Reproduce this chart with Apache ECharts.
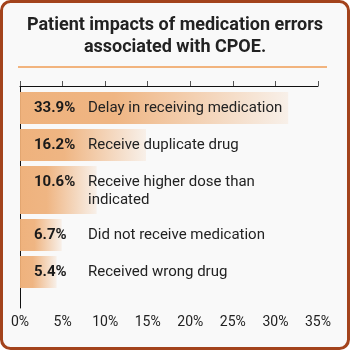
<!DOCTYPE html>
<html><head><meta charset="utf-8">
<script src="https://cdn.jsdelivr.net/npm/echarts@6/dist/echarts.min.js"></script>
<style>html,body{margin:0;padding:0;background:#fff;}#c{width:350px;height:350px;}</style>
</head><body><div id="c"></div>
<script>
const titleText = 'Patient impacts of medication errors\nassociated with CPOE.';
const categories = ['Delay in receiving medication','Receive duplicate drug','Receive higher dose than\nindicated','Did not receive medication','Received wrong drug'];
const percentLabels = ['33.9%','16.2%','10.6%','6.7%','5.4%'];
const barValues = [31.5, 14.8, 9.0, 4.9, 4.3];
const xTicks = [0,5,10,15,20,25,30,35];

// layout (px-like units on the hidden vertical value axis)
const topPad = 6, gap = 5, oneLine = 32, twoLine = 48, plotH = 222;
const rows = [];
let y = topPad;
categories.forEach((c, i) => {
  const h = c.indexOf('\n') >= 0 ? twoLine : oneLine;
  rows.push({top: y, h: h});
  y += h + gap;
});
const data = barValues.map((v, i) => [v, i]);

const chart = echarts.init(document.getElementById('c'), null, {renderer: 'canvas'});
chart.setOption({
  backgroundColor: '#ffffff',
  animation: false,
  graphic: [
    {type: 'rect', shape: {x: 1.5, y: 1.5, width: 347, height: 347, r: 9}, style: {fill: '#f9f9f9', stroke: '#a3431c', lineWidth: 3}, z: -10},
    {type: 'line', shape: {x1: 18, y1: 67, x2: 327, y2: 67}, style: {stroke: '#f2b47e', lineWidth: 2}}
  ],
  title: {
    text: titleText, left: 'center', top: 9,
    textStyle: {fontFamily: 'Roboto', fontWeight: 'bold', fontSize: 18, color: '#222', lineHeight: 22}
  },
  grid: {left: 20, right: 32, top: 86, bottom: 42},
  xAxis: {
    type: 'value', min: 0, max: 35, interval: 5,
    axisLine: {show: true, lineStyle: {color: '#111', width: 1}},
    axisTick: {show: true, inside: true, length: 5, lineStyle: {color: '#555'}},
    splitLine: {show: false},
    axisLabel: {formatter: '{value}%', fontFamily: 'Roboto', fontSize: 14, color: '#222', margin: 7}
  },
  yAxis: {
    type: 'value', min: 0, max: plotH, inverse: true,
    axisLine: {show: true, lineStyle: {color: '#111', width: 1}},
    axisTick: {show: false}, axisLabel: {show: false}, splitLine: {show: false}
  },
  series: [{
    type: 'custom',
    data: data,
    encode: {x: 0},
    renderItem: function (params, api) {
      const v = api.value(0), i = api.value(1);
      const r = rows[i];
      const p0 = api.coord([0, r.top]);
      const p1 = api.coord([v, r.top + r.h]);
      const textTop = p0[1] + (r.h === twoLine ? 7 : (r.h - 18) / 2);
      return {
        type: 'group',
        children: [
          {type: 'rect', shape: {x: p0[0], y: p0[1], width: p1[0] - p0[0], height: p1[1] - p0[1]},
           style: {fill: new echarts.graphic.LinearGradient(0, 0, 1, 0, [
             {offset: 0, color: 'rgba(238,174,118,0.95)'},
             {offset: 0.35, color: 'rgba(238,174,118,0.9)'},
             {offset: 1, color: 'rgba(238,174,118,0.12)'}])}},
          {type: 'text', x: p0[0] + 14, y: textTop,
           style: {text: percentLabels[i], fontFamily: 'Roboto', fontWeight: 'bold', fontSize: 15, fill: '#1a1a1a', lineHeight: 18, verticalAlign: 'top'}},
          {type: 'text', x: p0[0] + 68, y: textTop,
           style: {text: categories[i], fontFamily: 'Roboto', fontSize: 15, fill: '#222', lineHeight: 18, verticalAlign: 'top'}}
        ]
      };
    }
  }]
});
</script></body></html>
